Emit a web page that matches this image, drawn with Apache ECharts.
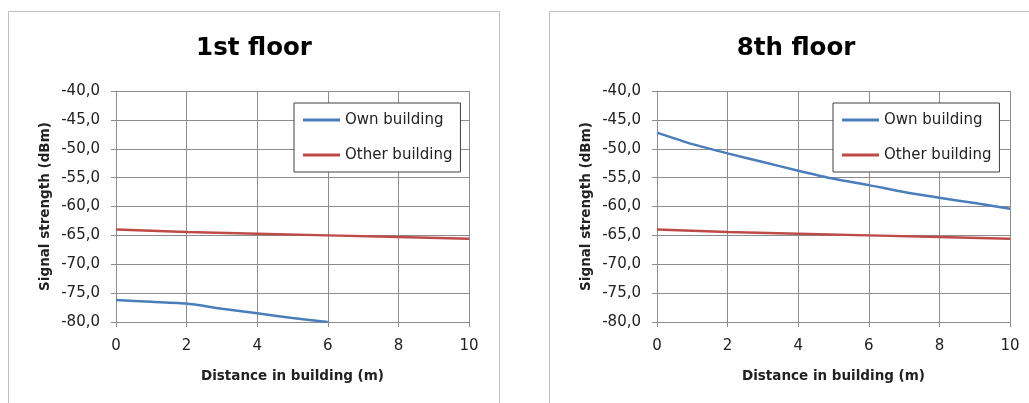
<!DOCTYPE html>
<html>
<head>
<meta charset="utf-8">
<script src="https://cdn.jsdelivr.net/npm/echarts@6/dist/echarts.min.js"></script>
<style>html,body{margin:0;padding:0;background:#fff;}#c{width:1029px;height:403px;}</style>
</head>
<body>
<div id="c"></div>
<script>
var distance = [0, 1, 2, 3, 4, 5, 6, 7, 8, 9, 10];
var distanceEven = [0, 2, 4, 6, 8, 10];
var ownFloor1 = [-76.2, -76.5, -76.8, -77.7, -78.5, -79.3, -80.0];
var otherFloor1 = [-64.0, -64.4, -64.7, -65.0, -65.3, -65.6];
var ownFloor8 = [-47.2, -49.2, -50.8, -52.3, -53.8, -55.2, -56.3, -57.5, -58.5, -59.4, -60.4];
var otherFloor8 = [-64.0, -64.4, -64.7, -65.0, -65.3, -65.6];
var titles = ['1st floor', '8th floor'];
var seriesNames = ['Own building', 'Other building'];
var xTitle = 'Distance in building (m)';
var yTitle = 'Signal strength (dBm)';

function pairs(xs, vals) { return vals.map(function (v, i) { return [xs[i], v]; }); }

var FONT = 'DejaVu Sans';
var gridCol = '#8c8c8c';
var blue = '#4a7ebb', red = '#be4b48';

function xAxis(gi) {
  return {
    type: 'value', gridIndex: gi, min: 0, max: 10, interval: 2,
    name: xTitle, nameLocation: 'middle', nameGap: 47,
    nameTextStyle: { fontFamily: FONT, fontWeight: 'bold', fontSize: 13.5, color: '#222' },
    axisLine: { show: true, onZero: false, lineStyle: { color: gridCol, width: 1 } },
    axisTick: { show: true, length: 5, lineStyle: { color: gridCol } },
    axisLabel: { margin: 17, fontFamily: FONT, fontSize: 15, color: '#222' },
    splitLine: { show: true, lineStyle: { color: gridCol, width: 1 } }
  };
}
function yAxis(gi) {
  return {
    type: 'value', gridIndex: gi, min: -80, max: -40, interval: 5,
    name: yTitle, nameLocation: 'middle', nameGap: 64, nameRotate: 90,
    nameTextStyle: { fontFamily: FONT, fontWeight: 'bold', fontSize: 13.5, color: '#222' },
    axisLine: { show: true, onZero: false, lineStyle: { color: gridCol, width: 1 } },
    axisTick: { show: true, length: 5, lineStyle: { color: gridCol } },
    axisLabel: { margin: 16, fontFamily: FONT, fontSize: 15, color: '#222',
      formatter: function (v) { return v.toFixed(1).replace('.', ','); } },
    splitLine: { show: true, lineStyle: { color: gridCol, width: 1 } }
  };
}
function legend(left) {
  return {
    left: left, top: 103, orient: 'vertical',
    data: seriesNames, icon: 'rect', itemWidth: 37, itemHeight: 3, itemGap: 19,
    padding: [9, 8, 9, 9], borderColor: '#404040', borderWidth: 1, backgroundColor: '#fff',
    selectedMode: false,
    textStyle: { fontFamily: FONT, fontSize: 15, color: '#222', lineHeight: 16 }
  };
}
function line(name, gi, xs, vals, color, smooth) {
  return {
    type: 'line', name: name, xAxisIndex: gi, yAxisIndex: gi, data: pairs(xs, vals),
    symbol: 'none', smooth: smooth, clip: true,
    lineStyle: { color: color, width: 2.5 }, itemStyle: { color: color }
  };
}

var chart = echarts.init(document.getElementById('c'), null, { renderer: 'canvas' });
chart.setOption({
  backgroundColor: '#fff',
  animation: false,
  graphic: [
    { type: 'rect', z: -10, shape: { x: 8.5, y: 11.5, width: 491, height: 420 }, style: { fill: '#fff', stroke: '#bfbfbf', lineWidth: 1 } },
    { type: 'rect', z: -10, shape: { x: 549.5, y: 11.5, width: 491, height: 420 }, style: { fill: '#fff', stroke: '#bfbfbf', lineWidth: 1 } }
  ],
  title: [
    { text: titles[0], left: 249, top: 31, textAlign: 'center', textStyle: { fontFamily: FONT, fontWeight: 'bold', fontSize: 24.5, color: '#000' } },
    { text: titles[1], left: 791, top: 31, textAlign: 'center', textStyle: { fontFamily: FONT, fontWeight: 'bold', fontSize: 24.5, color: '#000' } }
  ],
  grid: [
    { left: 116, top: 91, width: 353, height: 231, containLabel: false },
    { left: 657, top: 91, width: 353, height: 231, containLabel: false }
  ],
  xAxis: [xAxis(0), xAxis(1)],
  yAxis: [yAxis(0), yAxis(1)],
  legend: [legend(294), legend(833)],
  series: [
    line(seriesNames[0], 0, distance, ownFloor1, blue, 0.2),
    line(seriesNames[1], 0, distanceEven, otherFloor1, red, false),
    line(seriesNames[0], 1, distance, ownFloor8, blue, 0.2),
    line(seriesNames[1], 1, distanceEven, otherFloor8, red, false)
  ]
});
</script>
</body>
</html>
